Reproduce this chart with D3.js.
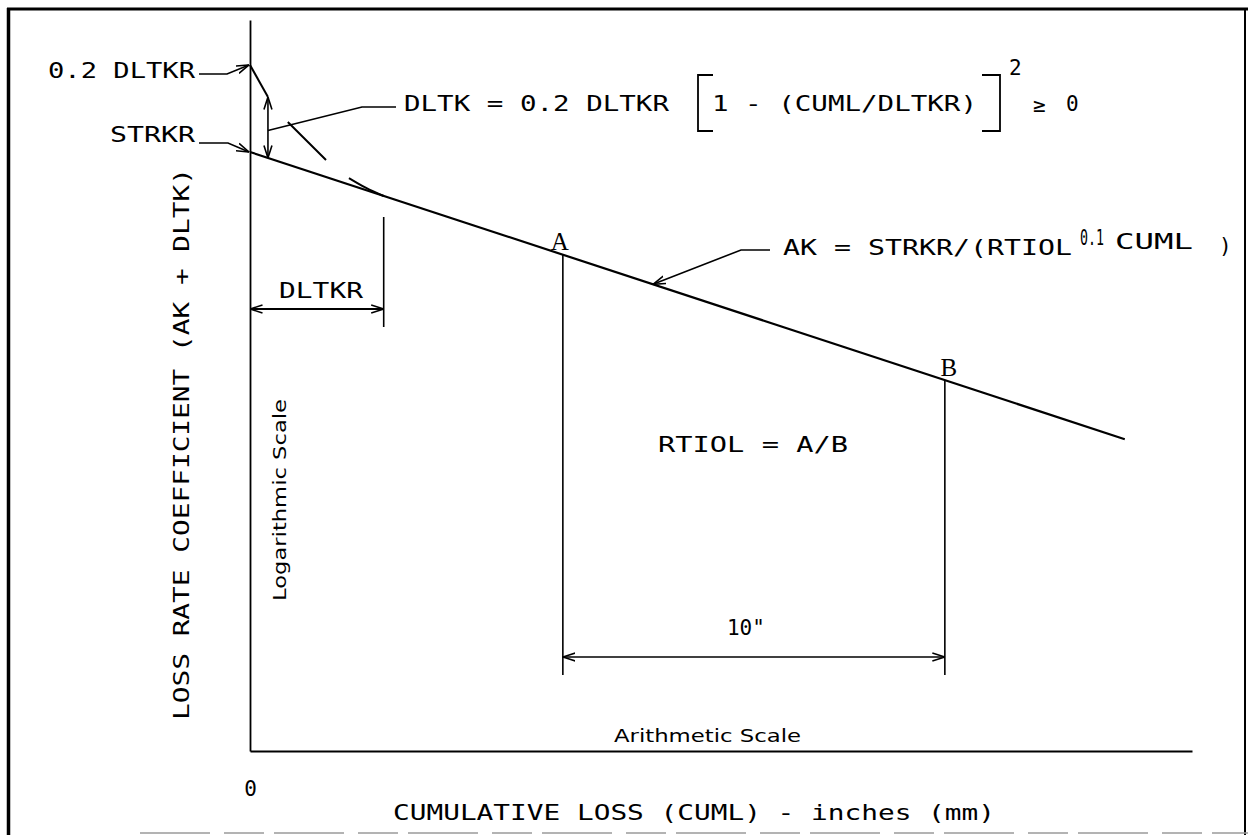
<!DOCTYPE html>
<html><head><meta charset="utf-8">
<script src="https://cdn.jsdelivr.net/npm/d3@7"></script>
<style>
html,body{margin:0;padding:0;background:#fff;}
svg{display:block;}
.mono{font-family:"DejaVu Sans Mono","Liberation Mono",monospace;font-size:21px;fill:#000;}
.sans{font-family:"DejaVu Sans","Noto Sans",sans-serif;font-size:17px;fill:#000;}
.serif{font-family:"Liberation Serif","DejaVu Serif",serif;font-size:25px;fill:#000;}
</style></head><body>
<svg id="chart" width="1248" height="835"></svg>
<script>
// ---------------- data (read from the schematic) ----------------
const cumlDomain = [0, 24.66];          // arithmetic scale, inches
const coefDomain = [0.0365, 2.074];     // logarithmic scale, loss rate coefficient
const xTickLabels = ["0"];
const xTickValues = [0];
const strkr = 1.0;                      // STRKR
const dltkr = 3.5;                      // DLTKR (inches)
const lineCuml = [0, 22.9];             // AK straight line
const lineAK   = [1.0, 0.2045];
const pointNames = ["A", "B"];
const pointCuml  = [8.19, 18.19];
const pointAK    = [0.5667, 0.2833];
const curveCuml = [0, 0.47, 0.99, 1.49, 1.99, 2.59, 3.04, 3.5];   // AK + DLTK (dashed)
const curveCoef = [1.618, 1.355, 1.180, 1.063, 0.957, 0.866, 0.820, 0.784];
const curveDashes = [[0, 1], [2, 4], [5, 7]];
const akArrowCuml = 10.55;

// ---------------- drawing ----------------
const svg = d3.select("#chart");
const x = d3.scaleLinear().domain(cumlDomain).range([250, 1192]);
const y = d3.scaleLog().domain(coefDomain).range([751, 20]);

const defs = svg.append("defs");
defs.append("marker").attr("id", "arr")
  .attr("viewBox", "0 0 13 10").attr("refX", 12.5).attr("refY", 5)
  .attr("markerWidth", 13).attr("markerHeight", 10)
  .attr("markerUnits", "userSpaceOnUse").attr("orient", "auto-start-reverse")
  .append("path").attr("d", "M0,1 L12.5,5 L0,9")
  .attr("fill", "none").attr("stroke", "#000").attr("stroke-width", 1.6);

// frame
const frame = svg.append("g").attr("stroke", "#000").attr("fill", "none");
frame.append("line").attr("x1", 7).attr("y1", 9).attr("x2", 1248).attr("y2", 9).attr("stroke-width", 3);
frame.append("line").attr("x1", 8.5).attr("y1", 8).attr("x2", 8.5).attr("y2", 835).attr("stroke-width", 3.5);
frame.append("line").attr("x1", 1245).attr("y1", 8).attr("x2", 1245).attr("y2", 835).attr("stroke-width", 2);
frame.append("line").attr("x1", 140).attr("y1", 833).attr("x2", 1248).attr("y2", 833)
  .attr("stroke", "#9a9a9a").attr("stroke-width", 1.5).attr("stroke-dasharray", "70 14 40 10");

// axes
const gx = svg.append("g").attr("transform", `translate(0,${y.range()[0]})`)
  .call(d3.axisBottom(x).tickValues(xTickValues).tickFormat((d, i) => xTickLabels[i])
        .tickSize(0).tickSizeOuter(0).tickPadding(25));
gx.select(".domain").attr("stroke-width", 1.8);
gx.selectAll("text").attr("class", "mono").attr("font-size", null).attr("font-family", null)
  .attr("dy", "0.95em").attr("fill", "#000");
const gy = svg.append("g").attr("transform", `translate(${x(0)},0)`)
  .call(d3.axisLeft(y).tickValues([]).tickSizeOuter(0));
gy.select(".domain").attr("stroke-width", 1.8);

// main AK line
const lineGen = d3.line().x(d => x(d[0])).y(d => y(d[1]));
svg.append("path").datum(lineCuml.map((c, i) => [c, lineAK[i]]))
  .attr("d", lineGen).attr("fill", "none").attr("stroke", "#000").attr("stroke-width", 2.2);

// dashed AK + DLTK curve
curveDashes.forEach(([a, b]) => {
  const pts = curveCuml.slice(a, b + 1).map((c, i) => [c, curveCoef[a + i]]);
  svg.append("path").datum(pts)
    .attr("d", d3.line().x(d => x(d[0])).y(d => y(d[1])).curve(d3.curveMonotoneX))
    .attr("fill", "none").attr("stroke", "#000").attr("stroke-width", 2);
});

// DLTK double arrow at curveCuml[1]
const akAt = c => lineAK[0] * Math.pow(lineAK[1] / lineAK[0], c / lineCuml[1]);
const dx = x(curveCuml[1]);
svg.append("line").attr("x1", dx).attr("x2", dx)
  .attr("y1", y(curveCoef[1])).attr("y2", y(akAt(curveCuml[1])))
  .attr("stroke", "#000").attr("stroke-width", 1.6)
  .attr("marker-start", "url(#arr)").attr("marker-end", "url(#arr)");
const dMid = (y(curveCoef[1]) + y(akAt(curveCuml[1]))) / 2 + 3;

// vertical lines at A, B
const footY = 675, dimY = 657;
pointCuml.forEach((c, i) => {
  svg.append("line").attr("x1", x(c)).attr("x2", x(c)).attr("y1", y(pointAK[i])).attr("y2", footY)
    .attr("stroke", "#000").attr("stroke-width", 1.6);
});
svg.append("line").attr("x1", x(pointCuml[0])).attr("x2", x(pointCuml[1]))
  .attr("y1", dimY).attr("y2", dimY).attr("stroke", "#000").attr("stroke-width", 1.6)
  .attr("marker-start", "url(#arr)").attr("marker-end", "url(#arr)");
svg.append("text").attr("class", "mono").attr("x", (x(pointCuml[0]) + x(pointCuml[1])) / 2 - 8)
  .attr("y", dimY - 22).attr("text-anchor", "middle").text('10"');

// A, B labels
svg.append("text").attr("class", "serif").attr("x", x(pointCuml[0]) - 3).attr("y", y(pointAK[0]) - 5)
  .attr("text-anchor", "middle").text(pointNames[0]);
svg.append("text").attr("class", "serif").attr("x", x(pointCuml[1]) + 4).attr("y", y(pointAK[1]) - 4)
  .attr("text-anchor", "middle").text(pointNames[1]);

// DLTKR dimension
const dlY = 309;
svg.append("line").attr("x1", x(dltkr)).attr("x2", x(dltkr)).attr("y1", 217).attr("y2", 327)
  .attr("stroke", "#000").attr("stroke-width", 1.6);
svg.append("line").attr("x1", x(0)).attr("x2", x(dltkr)).attr("y1", dlY).attr("y2", dlY)
  .attr("stroke", "#000").attr("stroke-width", 1.8)
  .attr("marker-start", "url(#arr)").attr("marker-end", "url(#arr)");
svg.append("text").attr("class", "mono").attr("x", 279).attr("y", 298)
  .attr("textLength", 84).attr("lengthAdjust", "spacingAndGlyphs").text("DLTKR");

// leaders
function leader(pts, arrow) {
  svg.append("path").attr("d", d3.line()(pts)).attr("fill", "none")
    .attr("stroke", "#000").attr("stroke-width", 1.6)
    .attr("marker-end", arrow ? "url(#arr)" : null);
}
leader([[199, 74], [227, 74], [x(0) - 1, y(curveCoef[0])]], true);
leader([[199, 143], [228, 143], [x(0) - 1, y(strkr)]], true);
leader([[dx, dMid], [362, 107], [396, 107]], false);
leader([[770, 250], [741, 250], [x(akArrowCuml), y(akAt(akArrowCuml))]], true);

// labels left
svg.append("text").attr("class", "mono").attr("x", 48).attr("y", 78)
  .attr("textLength", 147).attr("lengthAdjust", "spacingAndGlyphs").text("0.2 DLTKR");
svg.append("text").attr("class", "mono").attr("x", 110).attr("y", 142)
  .attr("textLength", 85).attr("lengthAdjust", "spacingAndGlyphs").text("STRKR");

// DLTK formula
const fy = 111;
svg.append("text").attr("class", "mono").attr("x", 404).attr("y", fy)
  .attr("textLength", 265).attr("lengthAdjust", "spacingAndGlyphs").text("DLTK = 0.2 DLTKR");
svg.append("path").attr("d", "M713,75 L698,75 L698,131 L713,131").attr("fill", "none")
  .attr("stroke", "#000").attr("stroke-width", 1.8);
svg.append("text").attr("class", "mono").attr("x", 712).attr("y", fy)
  .attr("textLength", 265).attr("lengthAdjust", "spacingAndGlyphs").text("1 - (CUML/DLTKR)");
svg.append("path").attr("d", "M982,75 L1000,75 L1000,131 L982,131").attr("fill", "none")
  .attr("stroke", "#000").attr("stroke-width", 1.8);
svg.append("text").attr("class", "mono").attr("x", 1009).attr("y", 75).text("2");
svg.append("text").attr("class", "mono").attr("x", 1033).attr("y", fy + 1).text("≥");
svg.append("text").attr("class", "mono").attr("x", 1066).attr("y", fy).text("0");

// AK formula
svg.append("text").attr("class", "mono").attr("x", 783).attr("y", 255)
  .attr("textLength", 289).attr("lengthAdjust", "spacingAndGlyphs").text("AK = STRKR/(RTIOL");
svg.append("text").attr("class", "mono").attr("x", 1080).attr("y", 245).attr("font-size", 16)
  .attr("textLength", 24).attr("lengthAdjust", "spacingAndGlyphs").text("0.1");
svg.append("text").attr("class", "mono").attr("x", 1115).attr("y", 249)
  .attr("textLength", 78).attr("lengthAdjust", "spacingAndGlyphs").text("CUML");
svg.append("text").attr("class", "mono").attr("x", 1219).attr("y", 253).text(")");

// RTIOL
svg.append("text").attr("class", "mono").attr("x", 658).attr("y", 452)
  .attr("textLength", 190).attr("lengthAdjust", "spacingAndGlyphs").text("RTIOL = A/B");

// scale notes
svg.append("text").attr("class", "sans").attr("transform", "translate(286,500) rotate(-90)")
  .attr("text-anchor", "middle").attr("textLength", 202).attr("lengthAdjust", "spacingAndGlyphs")
  .text("Logarithmic Scale");
svg.append("text").attr("class", "sans").attr("x", 614).attr("y", 742)
  .attr("textLength", 187).attr("lengthAdjust", "spacingAndGlyphs").text("Arithmetic Scale");

// axis titles
svg.append("text").attr("class", "mono").attr("x", 393).attr("y", 820)
  .attr("textLength", 602).attr("lengthAdjust", "spacingAndGlyphs")
  .text("CUMULATIVE LOSS (CUML) - inches (mm)");
svg.append("text").attr("class", "mono").attr("transform", "translate(189,444) rotate(-90)")
  .attr("text-anchor", "middle").attr("textLength", 552).attr("lengthAdjust", "spacingAndGlyphs")
  .text("LOSS RATE COEFFICIENT (AK + DLTK)");
</script>
</body></html>
